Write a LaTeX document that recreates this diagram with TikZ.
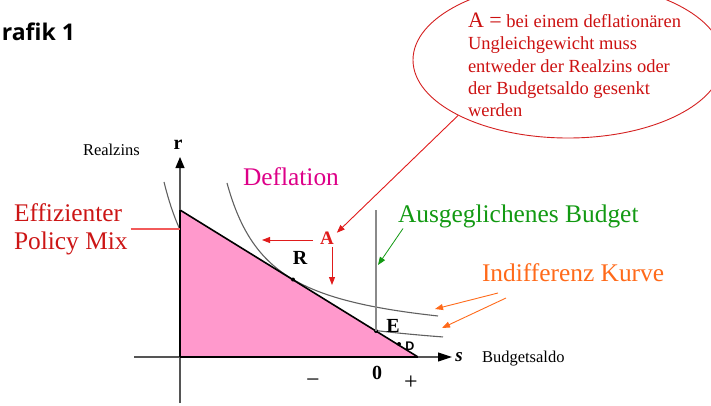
\documentclass[tikz,border=0pt]{standalone}
\usepackage{fontspec}
\setmainfont{Liberation Serif}
\newfontfamily\titlefont{Open Sans}
\newfontfamily\dfont{Liberation Sans}
\usetikzlibrary{arrows.meta,shapes.geometric}
\definecolor{pinkfill}{HTML}{FF99CC}
\definecolor{effred}{HTML}{CC1515}
\definecolor{deflmag}{HTML}{DD0088}
\definecolor{budgreen}{HTML}{129912}
\definecolor{indorange}{HTML}{FF6A1A}
\definecolor{arrred}{HTML}{E01B1B}
\definecolor{calltext}{HTML}{CC1111}
\definecolor{callred}{HTML}{D42020}
\definecolor{effline}{HTML}{F25A5A}
\definecolor{curvecol}{HTML}{606060}
\definecolor{axiscol}{HTML}{555555}
\definecolor{budgray}{HTML}{8A8A8A}
\begin{document}
\begin{tikzpicture}[x=1pt,y=-1pt,
  lbl/.style={inner sep=0pt, outer sep=0pt},
  curvegray/.style={draw=curvecol, line width=1.1pt},
  axisline/.style={draw=axiscol, line width=1.1pt},
  redarr/.style={draw=arrred, line width=0.9pt, -{Triangle[length=8pt,width=6pt]}},
  greenarr/.style={draw=budgreen, line width=0.8pt, -{Triangle[length=8pt,width=6pt]}},
  orangearr/.style={draw=indorange, line width=0.9pt, -{Triangle[length=8pt,width=6pt]}},
  dotnode/.style={circle, fill=black, inner sep=0pt, minimum size=4pt},
  biglbl/.style={lbl, font=\fontsize{25.4}{28}\selectfont},
  smalllbl/.style={lbl, font=\fontsize{16.5}{19}\selectfont},
  ptlbl/.style={lbl, font=\bfseries\fontsize{20}{24}\selectfont},
]
\useasboundingbox (0,0) rectangle (711,405);
\clip (0,0) rectangle (711,405);

% title (its first letter lies beyond the left edge, as in the reference)
\node[lbl, anchor=base east, font=\titlefont\bfseries\fontsize{23}{26}\selectfont] (title) at (75,40) {Grafik 1};

% indifference curves
\draw[curvegray] plot[domain=164:443, samples=150] (\x, {361.4-7896/(\x-120)});
\draw[curvegray] plot[domain=227:438, samples=150] (\x, {343.7-7072/(\x-183)});

% axes
\coordinate (O) at (180,357);
\coordinate (rtop) at (180,157);
\coordinate (rbot) at (180,403);
\coordinate (sleft) at (134,357);
\coordinate (sright) at (452,357);
\coordinate (T) at (180,210);
\coordinate (H) at (418,357);
\draw[axisline] (rbot) -- (O);
\draw[axisline] (sleft) -- (O);

% efficient region
\fill[pinkfill] (T) -- (H) -- (O) -- cycle;
\draw[line width=1.2pt] (O) -- (T);
\draw[line width=1.2pt] (O) -- (H);
\draw[line width=1.6pt] (T) -- (H);
\draw[axisline, -{Triangle[length=11pt,width=9pt,color=black]}] (T) -- (rtop);
\draw[axisline, -{Triangle[length=14pt,width=9pt,color=black]}] (H) -- (sright);

% balanced budget line and points
\coordinate (budtop) at (376,210);
\node[dotnode] (Ept) at (376,331) {};
\draw[draw=budgray, line width=1.5pt] (budtop) -- (Ept.center);
\node[dotnode] (Rpt) at (293,279.5) {};
\node[dotnode] (Dpt) at (399,344) {};

% axis labels
\node[lbl, font=\bfseries\fontsize{20}{22}\selectfont] (rl) at (178,145) {r};
\node[lbl, font=\bfseries\itshape\fontsize{19}{20}\selectfont] (sl) at (459,357) {s};
\node[smalllbl, anchor=base west] (rz) at (83,155.5) {Realzins};
\node[smalllbl, anchor=base west] (bs) at (482,362) {Budgetsaldo};
\node[lbl, font=\bfseries\fontsize{20}{22}\selectfont] (zero) at (377,373) {0};
\node[lbl, font=\fontsize{24}{26}\selectfont] (plus) at (411,383) {+};
\node[lbl, font=\fontsize{24}{26}\selectfont] (minus) at (313,383) {−};
\node[ptlbl] (El) at (393,326) {E};
\node[ptlbl] (Rl) at (300,258) {R};
\node[lbl, font=\dfont\bfseries\fontsize{12.5}{14}\selectfont] (Dl) at (410,346) {D};

% big labels
\node[biglbl, text=effred, anchor=north west, align=left] (eff) at (14,203.5) {Effizienter\\Policy Mix};
\draw[draw=effline, line width=1.4pt] ([xshift=3pt]eff.east) -- (eff.east -| O);
\node[biglbl, text=deflmag, anchor=base west] (defl) at (243,185) {Deflation};
\node[biglbl, text=budgreen, anchor=base west] (bud) at (398,222) {Ausgeglichenes Budget};
\node[biglbl, text=indorange, anchor=base west] (ind) at (482,281) {Indifferenz Kurve};

% green arrow
\coordinate (budpt) at (378,265);
\draw[greenarr] ([xshift=5pt,yshift=-1pt]bud.south west) -- (budpt);

% orange arrows
\coordinate (io1) at (498,293);
\coordinate (ie1) at (435,309);
\coordinate (io2) at (506,298);
\coordinate (ie2) at (442,328);
\draw[orangearr] (io1) -- (ie1);
\draw[orangearr] (io2) -- (ie2);

% A and its arrows
\node[lbl, text=arrred, font=\bfseries\fontsize{19}{20}\selectfont] (Al) at (327,238) {A};
\coordinate (a1s) at (313,240);
\coordinate (a1e) at (262,240);
\coordinate (a2s) at (332,247);
\coordinate (a2e) at (332,285);
\draw[redarr] (a1s) -- (a1e);
\draw[redarr] (a2s) -- (a2e);

% callout
\node[draw=callred, line width=0.9pt, ellipse, minimum width=310pt, minimum height=156pt, inner sep=0pt] (callout) at (568,60) {};
\node[lbl, text=calltext, anchor=north west, align=left, font=\fontsize{18.5}{22.3}\selectfont] (calltxt) at (468,13) {{\fontsize{22}{22.3}\selectfont A =} bei einem deflationären\\Ungleichgewicht muss\\entweder der Realzins oder\\der Budgetsaldo gesenkt\\werden};
\draw[redarr] (callout.south west) -- ([xshift=3pt,yshift=-1pt]Al.north east);
\end{tikzpicture}
\end{document}
